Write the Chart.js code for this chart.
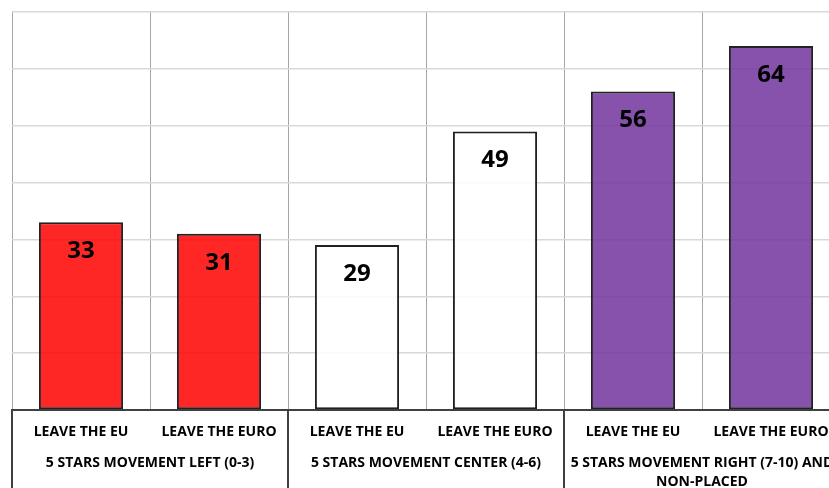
<!DOCTYPE html>
<html>
<head>
<meta charset="utf-8">
<script src="https://cdn.jsdelivr.net/npm/chart.js@4/dist/chart.umd.min.js"></script>
<style>
  html, body { margin: 0; padding: 0; background: #fff; overflow: hidden; }
  #wrap { width: 840px; height: 488px; position: relative; }
</style>
</head>
<body>
<div id="wrap"><canvas id="chart"></canvas></div>
<script>
// chart data
const categories = ['LEAVE THE EU', 'LEAVE THE EURO', 'LEAVE THE EU', 'LEAVE THE EURO', 'LEAVE THE EU', 'LEAVE THE EURO'];
const values = [33, 31, 29, 49, 56, 64];
const barColors = [
    'rgba(255, 0, 0, 0.85)', 'rgba(255, 0, 0, 0.85)',
    'rgba(255, 255, 255, 0.85)', 'rgba(255, 255, 255, 0.85)',
    'rgba(113, 52, 157, 0.85)', 'rgba(113, 52, 157, 0.85)'
];
// each group spans two categories
const groupLabels = [
    ['5 STARS MOVEMENT LEFT (0-3)'],
    ['5 STARS MOVEMENT CENTER (4-6)'],
    ['5 STARS MOVEMENT RIGHT (7-10) AND', 'NON-PLACED']
];
const groupSize = 2;

const labelFont = 'bold 14px "Open Sans", sans-serif';

// value labels inside the top of each bar
const valueLabels = {
    id: 'valueLabels',
    afterDatasetsDraw(chart) {
        const ctx = chart.ctx;
        const meta = chart.getDatasetMeta(0);
        ctx.save();
        ctx.font = 'bold 24px "Open Sans", sans-serif';
        ctx.fillStyle = '#000';
        ctx.textAlign = 'center';
        ctx.textBaseline = 'middle';
        meta.data.forEach((bar, i) => {
            ctx.fillText(values[i], bar.x, bar.y + 29);
        });
        ctx.restore();
    }
};

// second level of the category axis: group separators and group names
const groupAxis = {
    id: 'groupAxis',
    afterDraw(chart) {
        const ctx = chart.ctx;
        const x = chart.scales.x;
        const top = chart.chartArea.bottom;
        const bottom = chart.height;
        const half = (x.getPixelForTick(1) - x.getPixelForTick(0)) / 2;
        ctx.save();
        ctx.strokeStyle = '#404040';
        ctx.lineWidth = 2;
        for (let g = 0; g <= groupLabels.length; g++) {
            const idx = g * groupSize;
            const px = idx < categories.length ? x.getPixelForTick(idx) - half : x.getPixelForTick(categories.length - 1) + half;
            ctx.beginPath();
            ctx.moveTo(px, top);
            ctx.lineTo(px, bottom);
            ctx.stroke();
        }
        ctx.font = labelFont;
        ctx.fillStyle = '#000';
        ctx.textAlign = 'center';
        ctx.textBaseline = 'middle';
        groupLabels.forEach((lines, g) => {
            const a = x.getPixelForTick(g * groupSize);
            const b = x.getPixelForTick(g * groupSize + groupSize - 1);
            const cx = (a + b) / 2;
            lines.forEach((line, k) => {
                ctx.fillText(line, cx, top + 53 + k * 19);
            });
        });
        ctx.restore();
    }
};

const ctx = document.getElementById('chart').getContext('2d');
const myChart = new Chart(ctx, {
    type: 'bar',
    data: {
        labels: categories,
        datasets: [{
            data: values,
            backgroundColor: barColors,
            borderColor: '#222',
            borderWidth: 2,
            borderSkipped: false,
            barPercentage: 0.61,
            categoryPercentage: 1
        }]
    },
    options: {
        responsive: true,
        maintainAspectRatio: false,
        animation: false,
        layout: { padding: { top: 12, left: 0, right: 0, bottom: 0 } },
        plugins: { legend: { display: false }, tooltip: { enabled: false } },
        scales: {
            x: {
                offset: true,
                grid: { display: true, offset: true, color: '#a6a6a6', lineWidth: 1, drawTicks: false },
                border: { display: true, color: '#404040', width: 2 },
                ticks: { color: '#000', font: { family: '"Open Sans", sans-serif', size: 14, weight: 'bold' }, padding: 14, maxRotation: 0, autoSkip: false },
                afterFit(scale) {
                    scale.height = 78;
                    scale.paddingLeft = 0;
                    scale.paddingRight = 0;
                }
            },
            y: {
                min: 0,
                max: 70,
                ticks: { display: false, stepSize: 10 },
                grid: { color: '#d9d9d9', lineWidth: 1.5, drawTicks: false },
                border: { display: false },
                afterFit(scale) { scale.width = 12; }
            }
        }
    },
    plugins: [valueLabels, groupAxis]
});
</script>
</body>
</html>
